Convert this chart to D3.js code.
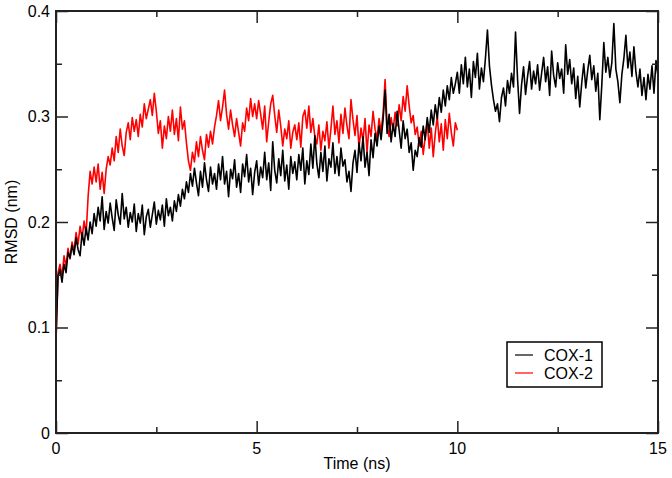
<!DOCTYPE html>
<html lang="en">
<head>
<meta charset="utf-8">
<title>RMSD COX-1 / COX-2</title>
<script src="https://d3js.org/d3.v7.min.js"></script>
<style>
  body { margin: 0; background: #fff; }
  text { font-family: "Liberation Sans", Arial, sans-serif; fill: #000; }
</style>
</head>
<body>
<script>
// time step of the read-off samples (ns)
var step = 0.05;

// COX-1 RMSD (nm), t = 0 .. 15 ns
var cox1 = [
  0.090,0.148,0.155,0.143,0.160,0.152,0.171,0.166,0.178,0.169,0.185,0.174,0.168,0.190,0.178,0.195,0.183,0.200,0.189,0.208,
  0.196,0.214,0.201,0.224,0.193,0.210,0.199,0.218,0.204,0.192,0.221,0.207,0.198,0.227,0.203,0.214,0.195,0.209,0.200,0.217,
  0.191,0.208,0.199,0.216,0.188,0.205,0.212,0.195,0.207,0.219,0.198,0.211,0.202,0.216,0.196,0.222,0.206,0.214,0.201,0.220,
  0.210,0.226,0.215,0.231,0.222,0.238,0.228,0.246,0.234,0.251,0.237,0.225,0.248,0.233,0.256,0.240,0.229,0.252,0.236,0.246,
  0.231,0.255,0.240,0.262,0.236,0.248,0.224,0.250,0.241,0.259,0.233,0.246,0.228,0.255,0.243,0.264,0.238,0.251,0.226,0.247,
  0.258,0.235,0.252,0.242,0.266,0.240,0.256,0.230,0.276,0.249,0.237,0.260,0.244,0.268,0.239,0.254,0.231,0.262,0.246,0.257,
  0.240,0.264,0.249,0.270,0.236,0.258,0.245,0.274,0.251,0.282,0.255,0.242,0.266,0.248,0.272,0.239,0.260,0.252,0.275,0.246,
  0.262,0.244,0.270,0.253,0.259,0.238,0.248,0.229,0.256,0.268,0.247,0.275,0.258,0.281,0.252,0.266,0.244,0.278,0.261,0.284,
  0.272,0.291,0.278,0.297,0.325,0.284,0.302,0.276,0.293,0.281,0.305,0.287,0.270,0.296,0.279,0.288,0.266,0.275,0.249,0.268,
  0.262,0.280,0.271,0.291,0.278,0.299,0.285,0.306,0.292,0.311,0.298,0.318,0.304,0.325,0.310,0.329,0.316,0.337,0.322,0.331,
  0.342,0.322,0.349,0.331,0.356,0.328,0.345,0.318,0.352,0.337,0.360,0.326,0.346,0.333,0.355,0.382,0.348,0.330,0.316,0.305,
  0.312,0.295,0.318,0.327,0.310,0.334,0.322,0.341,0.328,0.380,0.336,0.303,0.330,0.347,0.321,0.338,0.352,0.326,0.343,0.331,
  0.349,0.325,0.341,0.356,0.333,0.347,0.320,0.362,0.339,0.328,0.351,0.336,0.345,0.322,0.368,0.340,0.354,0.331,0.346,0.317,
  0.338,0.309,0.332,0.350,0.327,0.344,0.358,0.335,0.348,0.324,0.341,0.297,0.330,0.370,0.342,0.356,0.337,0.351,0.388,0.345,
  0.333,0.313,0.340,0.355,0.377,0.346,0.361,0.338,0.366,0.342,0.328,0.345,0.320,0.337,0.316,0.340,0.326,0.348,0.322,0.353,0.338
];

// COX-2 RMSD (nm), t = 0 .. 10 ns
var cox2 = [
  0.085,0.152,0.160,0.148,0.168,0.158,0.175,0.165,0.181,0.172,0.190,0.179,0.196,0.184,0.201,0.188,0.224,0.248,0.236,0.252,
  0.238,0.255,0.231,0.247,0.227,0.250,0.262,0.254,0.270,0.258,0.281,0.266,0.288,0.272,0.263,0.285,0.294,0.278,0.299,0.286,
  0.297,0.281,0.302,0.290,0.312,0.298,0.307,0.316,0.301,0.322,0.305,0.284,0.296,0.270,0.291,0.279,0.300,0.286,0.306,0.283,
  0.298,0.277,0.309,0.288,0.296,0.275,0.258,0.249,0.266,0.257,0.276,0.262,0.281,0.268,0.259,0.283,0.271,0.286,0.274,0.290,
  0.301,0.315,0.296,0.309,0.325,0.302,0.288,0.306,0.292,0.281,0.298,0.285,0.272,0.294,0.286,0.308,0.296,0.317,0.300,0.312,
  0.298,0.315,0.302,0.288,0.310,0.276,0.295,0.312,0.320,0.301,0.285,0.306,0.291,0.272,0.288,0.279,0.296,0.270,0.285,0.292,
  0.278,0.294,0.271,0.300,0.306,0.289,0.310,0.285,0.298,0.281,0.274,0.292,0.268,0.286,0.277,0.295,0.270,0.288,0.310,0.283,
  0.296,0.275,0.302,0.284,0.308,0.291,0.279,0.316,0.297,0.282,0.301,0.270,0.289,0.277,0.298,0.266,0.292,0.281,0.305,0.288,
  0.279,0.298,0.286,0.303,0.335,0.292,0.281,0.299,0.287,0.304,0.291,0.311,0.296,0.319,0.305,0.329,0.310,0.294,0.301,0.283,
  0.290,0.272,0.286,0.264,0.281,0.295,0.270,0.289,0.262,0.284,0.300,0.276,0.293,0.268,0.297,0.279,0.303,0.285,0.272,0.294,0.287
];

var seriesNames = ["COX-1", "COX-2"];
var seriesColors = ["#000000", "#ff0000"];
var xMajor = [0, 5, 10, 15];
var xMinor = [2.5, 7.5, 12.5];
var yMajor = [0, 0.1, 0.2, 0.3, 0.4];
var yMinor = [0.05, 0.15, 0.25, 0.35];

var w = 672, h = 478;
var margin = {top: 11, right: 14, bottom: 45, left: 56};

var svg = d3.select("body").append("svg")
  .attr("width", w)
  .attr("height", h);

var x = d3.scaleLinear().domain([0, 15]).range([margin.left, w - margin.right]);
var y = d3.scaleLinear().domain([0, 0.4]).range([h - margin.bottom, margin.top]);

var plot = svg.append("g");
plot.append("clipPath").attr("id", "clip")
  .append("rect")
  .attr("x", x(0)).attr("y", y(0.4))
  .attr("width", x(15) - x(0)).attr("height", y(0) - y(0.4));

var line = d3.line()
  .x(function(d, i) { return x(i * step); })
  .y(function(d) { return y(d); });

// red first so black sits on top where they overlap at the start
[cox2, cox1].forEach(function(s, k) {
  plot.append("path")
    .datum(s)
    .attr("clip-path", "url(#clip)")
    .attr("d", line)
    .attr("fill", "none")
    .attr("stroke", k === 0 ? seriesColors[1] : seriesColors[0])
    .attr("stroke-width", 1.6)
    .attr("stroke-linejoin", "round");
});

// axes: ticks point inward on all four sides
var axisColor = "#222";

var gB = svg.append("g").attr("transform", "translate(0," + y(0) + ")");
gB.call(d3.axisTop(x).tickValues(xMajor).tickSize(12).tickFormat(""));
gB.append("g").call(d3.axisTop(x).tickValues(xMinor).tickSize(6).tickFormat(""));
xMajor.forEach(function(v) {
  gB.append("text").attr("x", x(v)).attr("y", 21)
    .attr("text-anchor", "middle").style("font-size", "16px").text(v);
});

var gT = svg.append("g").attr("transform", "translate(0," + y(0.4) + ")");
gT.call(d3.axisBottom(x).tickValues(xMajor).tickSize(12).tickFormat(""));
gT.append("g").call(d3.axisBottom(x).tickValues(xMinor).tickSize(6).tickFormat(""));

var gL = svg.append("g").attr("transform", "translate(" + x(0) + ",0)");
gL.call(d3.axisRight(y).tickValues(yMajor).tickSize(12).tickFormat(""));
gL.append("g").call(d3.axisRight(y).tickValues(yMinor).tickSize(6).tickFormat(""));
yMajor.forEach(function(v) {
  gL.append("text").attr("x", -6).attr("y", y(v)).attr("dy", "0.36em")
    .attr("text-anchor", "end").style("font-size", "16px").text(v);
});

var gR = svg.append("g").attr("transform", "translate(" + x(15) + ",0)");
gR.call(d3.axisLeft(y).tickValues(yMajor).tickSize(12).tickFormat(""));
gR.append("g").call(d3.axisLeft(y).tickValues(yMinor).tickSize(6).tickFormat(""));

svg.selectAll(".domain").remove();
svg.selectAll(".tick line").attr("stroke", axisColor).attr("stroke-width", 1.5);

// frame
svg.append("rect")
  .attr("x", x(0)).attr("y", y(0.4))
  .attr("width", x(15) - x(0)).attr("height", y(0) - y(0.4))
  .attr("fill", "none").attr("stroke", axisColor).attr("stroke-width", 2);

// axis titles
svg.append("text")
  .attr("x", (x(0) + x(15)) / 2).attr("y", 469)
  .attr("text-anchor", "middle").style("font-size", "16px")
  .text("Time (ns)");
svg.append("text")
  .attr("transform", "translate(17," + y(0.2) + ") rotate(-90)")
  .attr("text-anchor", "middle").style("font-size", "16px")
  .text("RMSD (nm)");

// legend
var leg = svg.append("g").attr("transform", "translate(507,342)");
leg.append("rect").attr("width", 95).attr("height", 45)
  .attr("fill", "#fff").attr("stroke", "#000").attr("stroke-width", 1.5);
seriesNames.forEach(function(n, i) {
  var yy = 13 + i * 18;
  leg.append("line").attr("x1", 8).attr("x2", 26).attr("y1", yy).attr("y2", yy)
    .attr("stroke", seriesColors[i]).attr("stroke-width", 1.2);
  leg.append("text").attr("x", 37).attr("y", yy).attr("dy", "0.36em")
    .style("font-size", "16px").text(n);
});
</script>
</body>
</html>
